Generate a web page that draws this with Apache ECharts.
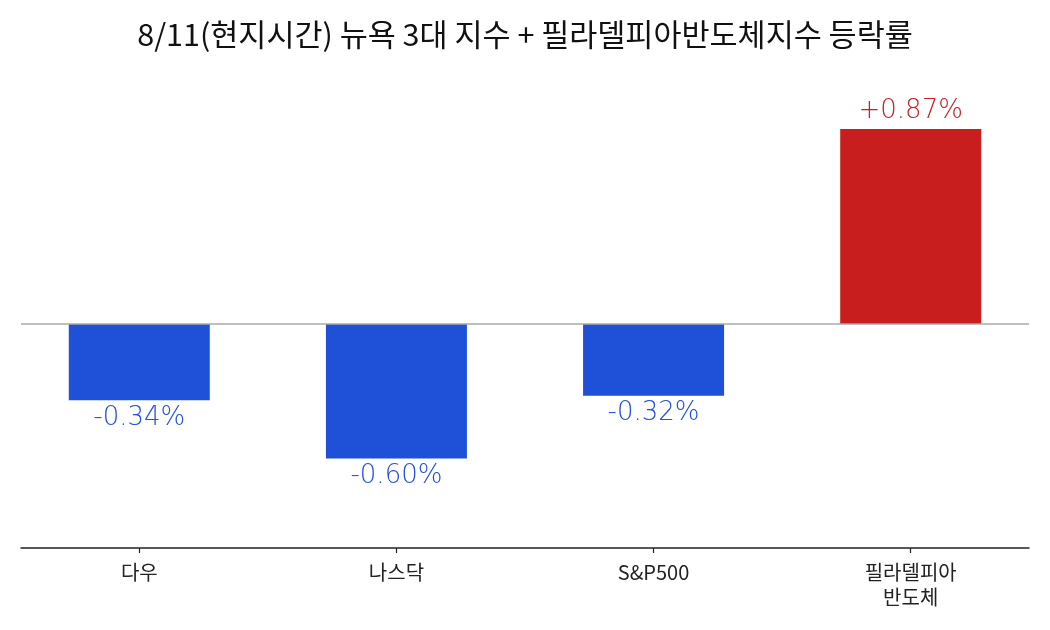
<!DOCTYPE html>
<html>
<head>
<meta charset="utf-8">
<script src="https://cdn.jsdelivr.net/npm/echarts@6/dist/echarts.min.js"></script>
<style>html,body{margin:0;padding:0;background:#fff}#c{width:1050px;height:630px}</style>
</head>
<body>
<div id="c"></div>
<script>
const categories = ['다우', '나스닥', 'S&P500', '필라델피아\n반도체'];
const values = [-0.34, -0.60, -0.32, 0.87];
const labels = ['-0.34%', '-0.60%', '-0.32%', '+0.87%'];
const titleText = '8/11(현지시간) 뉴욕 3대 지수 + 필라델피아반도체지수 등락률';

const BLUE = '#1e50d8', RED = '#c81e1e';
const BLUE_TXT = '#2450d4', RED_TXT = '#c4222a';
const positions = categories.map((_, i) => i);

const chart = echarts.init(document.getElementById('c'));
chart.setOption({
  backgroundColor: '#fff',
  animation: false,
  title: {
    text: titleText, left: 'center', top: 14,
    textStyle: { fontFamily: 'Noto Sans CJK KR', fontSize: 30.5, fontWeight: 'normal', color: '#111' }
  },
  grid: { left: 21, right: 21, top: 100, bottom: 82 },
  xAxis: {
    type: 'value', min: -0.46, max: 3.46,
    axisLine: { show: true, onZero: false, lineStyle: { color: '#222', width: 1.5 } },
    axisTick: { show: true, customValues: positions, length: 5, lineStyle: { color: '#222', width: 1.2 } },
    axisLabel: {
      customValues: positions,
      formatter: v => categories[Math.round(v)],
      fontFamily: 'Noto Sans CJK KR', fontSize: 20, color: '#222', margin: 12, lineHeight: 25
    },
    splitLine: { show: false }
  },
  yAxis: { type: 'value', min: -1, max: 1, show: false, splitLine: { show: false } },
  series: [{
    type: 'bar',
    barWidth: 141,
    data: values.map((v, i) => ({
      value: [positions[i], v],
      itemStyle: { color: v >= 0 ? RED : BLUE },
      label: {
        show: true, position: v >= 0 ? 'top' : 'bottom', distance: 5,
        formatter: labels[i], color: v >= 0 ? RED_TXT : BLUE_TXT,
        fontFamily: 'DejaVu Sans', fontWeight: 300, fontSize: 26
      }
    })),
    markLine: {
      silent: true, symbol: 'none', label: { show: false },
      lineStyle: { color: '#aaaaaa', width: 1.5, type: 'solid' },
      data: [{ yAxis: 0 }]
    }
  }]
});
</script>
</body>
</html>
